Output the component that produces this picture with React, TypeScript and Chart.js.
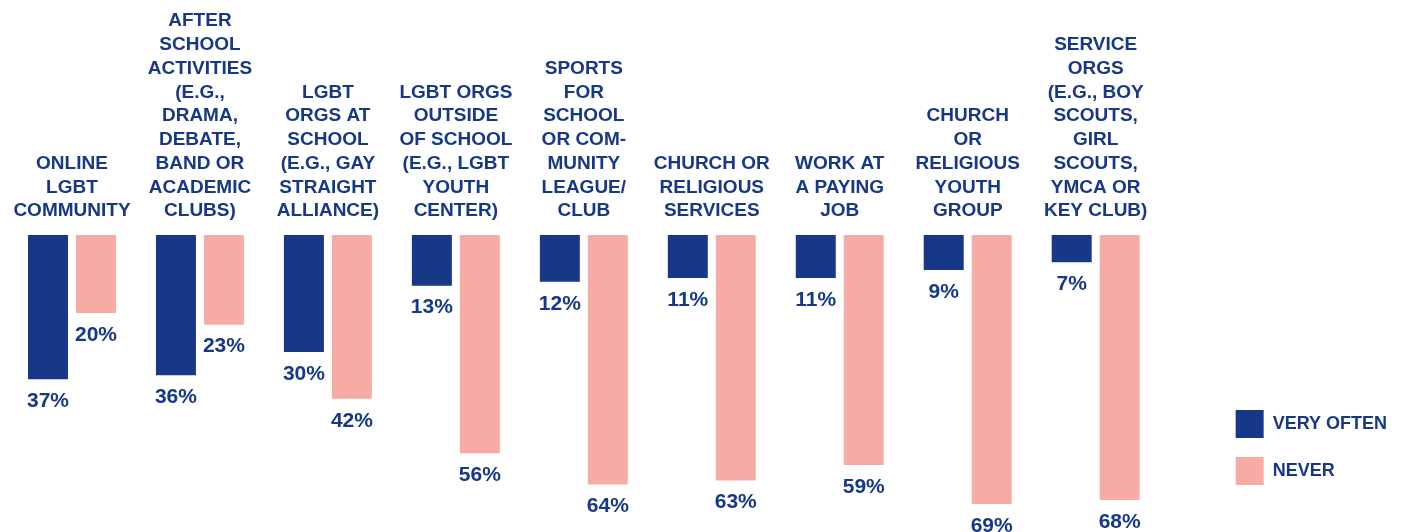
import React, { useEffect, useRef } from "react";
import { Chart, registerables } from "chart.js";

Chart.register(...registerables);

const categories: string[][] = [
  ["ONLINE", "LGBT", "COMMUNITY"],
  ["AFTER", "SCHOOL", "ACTIVITIES", "(E.G.,", "DRAMA,", "DEBATE,", "BAND OR", "ACADEMIC", "CLUBS)"],
  ["LGBT", "ORGS AT", "SCHOOL", "(E.G., GAY", "STRAIGHT", "ALLIANCE)"],
  ["LGBT ORGS", "OUTSIDE", "OF SCHOOL", "(E.G., LGBT", "YOUTH", "CENTER)"],
  ["SPORTS", "FOR", "SCHOOL", "OR COM-", "MUNITY", "LEAGUE/", "CLUB"],
  ["CHURCH OR", "RELIGIOUS", "SERVICES"],
  ["WORK AT", "A PAYING", "JOB"],
  ["CHURCH", "OR", "RELIGIOUS", "YOUTH", "GROUP"],
  ["SERVICE", "ORGS", "(E.G., BOY", "SCOUTS,", "GIRL", "SCOUTS,", "YMCA OR", "KEY CLUB)"],
];

const veryOften: number[] = [37, 36, 30, 13, 12, 11, 11, 9, 7];
const never: number[] = [20, 23, 42, 56, 64, 63, 59, 69, 68];

const seriesNames: string[] = ["VERY OFTEN", "NEVER"];

const NAVY = "#163887";
const PINK = "#F7ABA5";
const FONT = "'Liberation Sans', Arial, sans-serif";

const valueLabels = {
  id: "valueLabels",
  afterDatasetsDraw(chart: any) {
    const ctx = chart.ctx;
    ctx.save();
    ctx.font = `bold 21px ${FONT}`;
    ctx.fillStyle = NAVY;
    ctx.textAlign = "center";
    ctx.textBaseline = "middle";
    chart.data.datasets.forEach((ds: any, di: number) => {
      const meta = chart.getDatasetMeta(di);
      meta.data.forEach((bar: any, i: number) => {
        ctx.fillText(`${ds.data[i]}%`, bar.x, bar.y + 22);
      });
    });
    ctx.restore();
  },
};

export default function App() {
  const ref = useRef<HTMLCanvasElement | null>(null);

  useEffect(() => {
    if (!ref.current) return;
    const chart = new Chart(ref.current, {
      type: "bar",
      data: {
        labels: categories,
        datasets: [
          {
            label: seriesNames[0],
            data: veryOften,
            backgroundColor: NAVY,
            borderWidth: 0,
            categoryPercentage: 0.75,
            barPercentage: 40 / 48,
          },
          {
            label: seriesNames[1],
            data: never,
            backgroundColor: PINK,
            borderWidth: 0,
            categoryPercentage: 0.75,
            barPercentage: 40 / 48,
          },
        ],
      },
      options: {
        animation: false,
        responsive: true,
        maintainAspectRatio: false,
        layout: { padding: { top: 0, left: 8, right: 10, bottom: 28 } },
        scales: {
          x: {
            position: "top",
            grid: { display: false, drawTicks: false },
            border: { display: false },
            ticks: {
              color: NAVY,
              font: { family: FONT, size: 19, weight: "bold", lineHeight: 1.25 },
              padding: 12,
              maxRotation: 0,
              autoSkip: false,
            },
            afterFit: (s: any) => {
              s.height = 235;
            },
          },
          y: {
            position: "right",
            reverse: true,
            min: 0,
            max: 69,
            grid: { display: false, drawTicks: false },
            border: { display: false },
            ticks: { display: false },
            afterFit: (s: any) => {
              s.width = 57;
            },
          },
        },
        plugins: {
          legend: {
            position: "right",
            align: "end",
            labels: {
              boxWidth: 28,
              boxHeight: 28,
              padding: 19,
              color: NAVY,
              font: { family: FONT, size: 18, weight: "bold" },
            },
          },
          tooltip: { enabled: false },
        },
      },
      plugins: [valueLabels],
    });
    return () => chart.destroy();
  }, []);

  return (
    <div style={{ position: "absolute", left: 0, top: 0, width: 1407, height: 532 }}>
      <canvas ref={ref} />
    </div>
  );
}
